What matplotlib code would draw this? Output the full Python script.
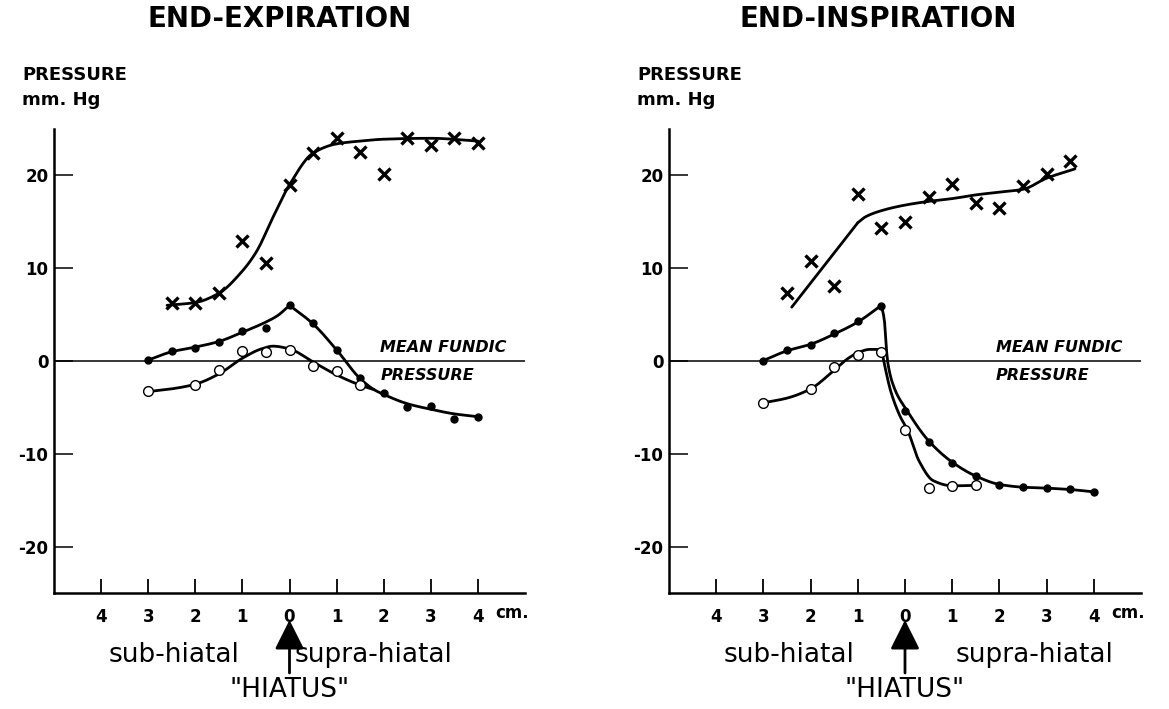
import numpy as np
import matplotlib
matplotlib.use("Agg")
import matplotlib.pyplot as plt
from matplotlib.ticker import FixedLocator, FixedFormatter

# ---------------- data (cm from hiatus: negative = sub-hiatal, positive = supra-hiatal)
# End-expiration
exp_x_pos = [-2.5, -2, -1.5, -1, -0.5, 0, 0.5, 1, 1.5, 2, 2.5, 3, 3.5, 4]
exp_x_val = [6.2, 6.3, 7.3, 12.9, 10.6, 19.0, 22.4, 24.0, 22.5, 20.2, 24.0, 23.3, 24.0, 23.5]
exp_dot_pos = [-3, -2.5, -2, -1.5, -1, -0.5, 0, 0.5, 1, 1.5, 2, 2.5, 3, 3.5, 4]
exp_dot_val = [0.1, 1.1, 1.4, 2.1, 3.2, 3.6, 6.0, 4.1, 1.2, -1.8, -3.4, -5.0, -4.9, -6.2, -6.0]
exp_open_pos = [-3, -2, -1.5, -1, -0.5, 0, 0.5, 1, 1.5]
exp_open_val = [-3.2, -2.6, -1.0, 1.1, 0.96, 1.2, -0.5, -1.1, -2.6]

# hand-fitted curves (knots)
exp_xcurve_k = [-2.6, -2, -1.5, -1, -0.7, -0.35, 0, 0.5, 1, 1.5, 2, 3, 4]
exp_xcurve_v = [6.0, 6.3, 7.3, 9.7, 11.8, 15.5, 19.0, 22.4, 23.4, 23.7, 23.9, 24.0, 23.7]
exp_dcurve1_k = [-3, -2.5, -2, -1.5, -1, -0.5, -0.25, 0]
exp_dcurve1_v = [0.1, 1.0, 1.5, 2.1, 3.1, 4.2, 4.9, 6.0]
exp_dcurve2_k = [0, 0.5, 1, 1.5, 1.8, 2, 2.5, 3, 3.5, 4]
exp_dcurve2_v = [6.0, 4.0, 1.2, -1.9, -3.1, -3.6, -4.6, -5.2, -5.7, -6.0]
exp_ocurve_k = [-3, -2.5, -2, -1.5, -1, -0.6, -0.35, 0, 0.5, 1, 1.5, 1.8]
exp_ocurve_v = [-3.3, -3.0, -2.5, -1.4, 0.3, 1.3, 1.6, 1.3, -0.1, -1.5, -2.6, -3.1]

# End-inspiration
ins_x_pos = [-2.5, -2, -1.5, -1, -0.5, 0, 0.5, 1, 1.5, 2, 2.5, 3, 3.5]
ins_x_val = [7.3, 10.8, 8.1, 18.0, 14.3, 15.0, 17.7, 19.1, 17.0, 16.5, 18.9, 20.1, 21.5]
ins_dot_pos = [-3, -2.5, -2, -1.5, -1, -0.5, 0, 0.5, 1, 1.5, 2, 2.5, 3, 3.5, 4]
ins_dot_val = [0.05, 1.2, 1.7, 3.0, 4.3, 5.95, -5.4, -8.7, -11.0, -12.4, -13.4, -13.6, -13.7, -13.8, -14.1]
ins_open_pos = [-3, -2, -1.5, -1, -0.5, 0, 0.5, 1, 1.5]
ins_open_val = [-4.5, -3.0, -0.7, 0.7, 1.0, -7.4, -13.7, -13.5, -13.4]

ins_xcurve1_k = [-2.4, -1.0]
ins_xcurve1_v = [5.8, 14.9]
ins_xcurve2_k = [-1.0, -0.85, -0.5, 0, 0.5, 1, 1.5, 2, 2.5, 3, 3.6]
ins_xcurve2_v = [14.9, 15.5, 16.2, 16.8, 17.2, 17.5, 17.9, 18.2, 18.5, 19.7, 20.7]
ins_dcurve1_k = [-3, -2.5, -2, -1.5, -1, -0.5]
ins_dcurve1_v = [0.05, 1.1, 1.8, 2.9, 4.2, 6.0]
ins_dcurve2_k = [-0.5, -0.44, -0.37, -0.22, 0.05, 0.5, 1, 1.5, 2, 2.5, 3, 3.5, 4]
ins_dcurve2_v = [6.0, 4.5, 0.0, -3.0, -5.4, -8.6, -10.9, -12.4, -13.3, -13.6, -13.7, -13.85, -14.1]
ins_ocurve1_k = [-3, -2.5, -2, -1.5, -1.2, -0.95, -0.75, -0.5]
ins_ocurve1_v = [-4.5, -4.0, -3.0, -1.0, 0.3, 1.0, 1.25, 1.25]
ins_ocurve2_k = [-0.5, -0.43, -0.3, -0.1, 0.05, 0.3, 0.6, 1.0, 1.5]
ins_ocurve2_v = [1.25, -0.5, -3.3, -6.0, -7.4, -10.8, -12.9, -13.45, -13.4]

x_ticks = [-4, -3, -2, -1, 0, 1, 2, 3, 4]
x_ticklabels = ["4", "3", "2", "1", "0", "1", "2", "3", "4"]
y_ticks = [-20, -10, 0, 10, 20]
y_ticklabels = ["-20", "-10", "0", "10", "20"]


def pchip(xk, yk, n=200):
    xk = np.asarray(xk, float)
    yk = np.asarray(yk, float)
    if len(xk) == 2:
        return xk, yk
    h = np.diff(xk)
    d = np.diff(yk) / h
    m = np.zeros_like(yk)
    for i in range(1, len(xk) - 1):
        if d[i - 1] * d[i] > 0:
            w1 = 2 * h[i] + h[i - 1]
            w2 = h[i] + 2 * h[i - 1]
            m[i] = (w1 + w2) / (w1 / d[i - 1] + w2 / d[i])
    m[0] = d[0]
    m[-1] = d[-1]
    xs = np.linspace(xk[0], xk[-1], n)
    idx = np.clip(np.searchsorted(xk, xs) - 1, 0, len(xk) - 2)
    t = (xs - xk[idx]) / h[idx]
    h00 = 2 * t**3 - 3 * t**2 + 1
    h10 = t**3 - 2 * t**2 + t
    h01 = -2 * t**3 + 3 * t**2
    h11 = t**3 - t**2
    ys = h00 * yk[idx] + h10 * h[idx] * m[idx] + h01 * yk[idx + 1] + h11 * h[idx] * m[idx + 1]
    return xs, ys


W, H = 1169, 709
fig = plt.figure(figsize=(W / 100, H / 100), dpi=100)

FONT = "DejaVu Sans"
CURVE_LW = 2.0


def make_axes(left_px, right_px):
    ax = fig.add_axes([left_px / W, 1 - 593 / H, (right_px - left_px) / W, (593 - 129) / H])
    ax.set_xlim(-5, 5)
    ax.set_ylim(-25, 25)
    for s in ("top", "right"):
        ax.spines[s].set_visible(False)
    for s in ("left", "bottom"):
        ax.spines[s].set_linewidth(1.8)
    ax.xaxis.set_major_locator(FixedLocator(x_ticks))
    ax.xaxis.set_major_formatter(FixedFormatter(x_ticklabels))
    ax.yaxis.set_major_locator(FixedLocator(y_ticks))
    ax.yaxis.set_major_formatter(FixedFormatter(y_ticklabels))
    ax.tick_params(axis="x", direction="in", length=10, width=1.3, pad=11,
                   labelsize=12)
    ax.tick_params(axis="y", direction="in", length=14, width=1.1, pad=4,
                   labelsize=12)
    for lab in ax.get_xticklabels() + ax.get_yticklabels():
        lab.set_fontweight("bold")
        lab.set_family(FONT)
    ax.axhline(0, color="black", lw=1.1, xmin=0, xmax=1, zorder=1)
    ax.text(4.72, -27.2, "cm.", fontsize=12, fontweight="bold", ha="center",
            va="center", clip_on=False)
    ax.text(1.93, 1.5, "MEAN FUNDIC", fontsize=11.5, fontweight="bold",
            style="italic", ha="left", va="center")
    ax.text(1.93, -1.6, "PRESSURE", fontsize=11.5, fontweight="bold",
            style="italic", ha="left", va="center")
    return ax


def draw_curve(ax, k, v):
    xs, ys = pchip(k, v)
    ax.plot(xs, ys, color="black", lw=CURVE_LW, solid_capstyle="round", zorder=2)


def draw_points(ax, xp, xv, dp, dv, op, ov):
    ax.plot(xp, xv, ls="none", marker="x", ms=9, mew=2.4, color="black", zorder=3)
    ax.plot(dp, dv, ls="none", marker="o", ms=5, color="black", zorder=3)
    ax.plot(op, ov, ls="none", marker="o", ms=7, mfc="white", mec="black",
            mew=1.0, zorder=4)


ax1 = make_axes(54, 525)
draw_curve(ax1, exp_xcurve_k, exp_xcurve_v)
draw_curve(ax1, exp_dcurve1_k, exp_dcurve1_v)
draw_curve(ax1, exp_dcurve2_k, exp_dcurve2_v)
draw_curve(ax1, exp_ocurve_k, exp_ocurve_v)
draw_points(ax1, exp_x_pos, exp_x_val, exp_dot_pos, exp_dot_val, exp_open_pos, exp_open_val)

ax2 = make_axes(669, 1141)
draw_curve(ax2, ins_xcurve1_k, ins_xcurve1_v)
draw_curve(ax2, ins_xcurve2_k, ins_xcurve2_v)
draw_curve(ax2, ins_dcurve1_k, ins_dcurve1_v)
draw_curve(ax2, ins_dcurve2_k, ins_dcurve2_v)
draw_curve(ax2, ins_ocurve1_k, ins_ocurve1_v)
draw_curve(ax2, ins_ocurve2_k, ins_ocurve2_v)
draw_points(ax2, ins_x_pos, ins_x_val, ins_dot_pos, ins_dot_val, ins_open_pos, ins_open_val)


def fy(py):
    return 1 - py / H


# titles and labels
fig.text(280 / W, fy(19), "END-EXPIRATION", fontsize=20, fontweight="bold",
         ha="center", va="center")
fig.text(878 / W, fy(19), "END-INSPIRATION", fontsize=20, fontweight="bold",
         ha="center", va="center")
for x0 in (22, 637):
    fig.text(x0 / W, fy(75), "PRESSURE", fontsize=13, fontweight="bold",
             ha="left", va="center")
    fig.text(x0 / W, fy(100), "mm. Hg", fontsize=13, fontweight="bold",
             ha="left", va="center")

for ax, sub_c, sup_c in ((ax1, 174, 374), (ax2, 789, 1035)):
    fig.text(sub_c / W, fy(655), "sub-hiatal", fontsize=19, ha="center", va="center")
    fig.text(sup_c / W, fy(655), "supra-hiatal", fontsize=19, ha="center", va="center")
    ax.annotate("", xy=(0, fy(620)), xytext=(0, fy(673)),
                xycoords=("data", "figure fraction"),
                textcoords=("data", "figure fraction"),
                arrowprops=dict(arrowstyle="-|>,head_width=0.45,head_length=0.9",
                                lw=2.0, color="black", mutation_scale=20,
                                shrinkA=0, shrinkB=0),
                annotation_clip=False)
    ax.text(0, fy(690), '"HIATUS"', transform=matplotlib.transforms.blended_transform_factory(
        ax.transData, fig.transFigure), fontsize=19, ha="center", va="center")

fig.savefig("out.png", dpi=100, facecolor="white")
